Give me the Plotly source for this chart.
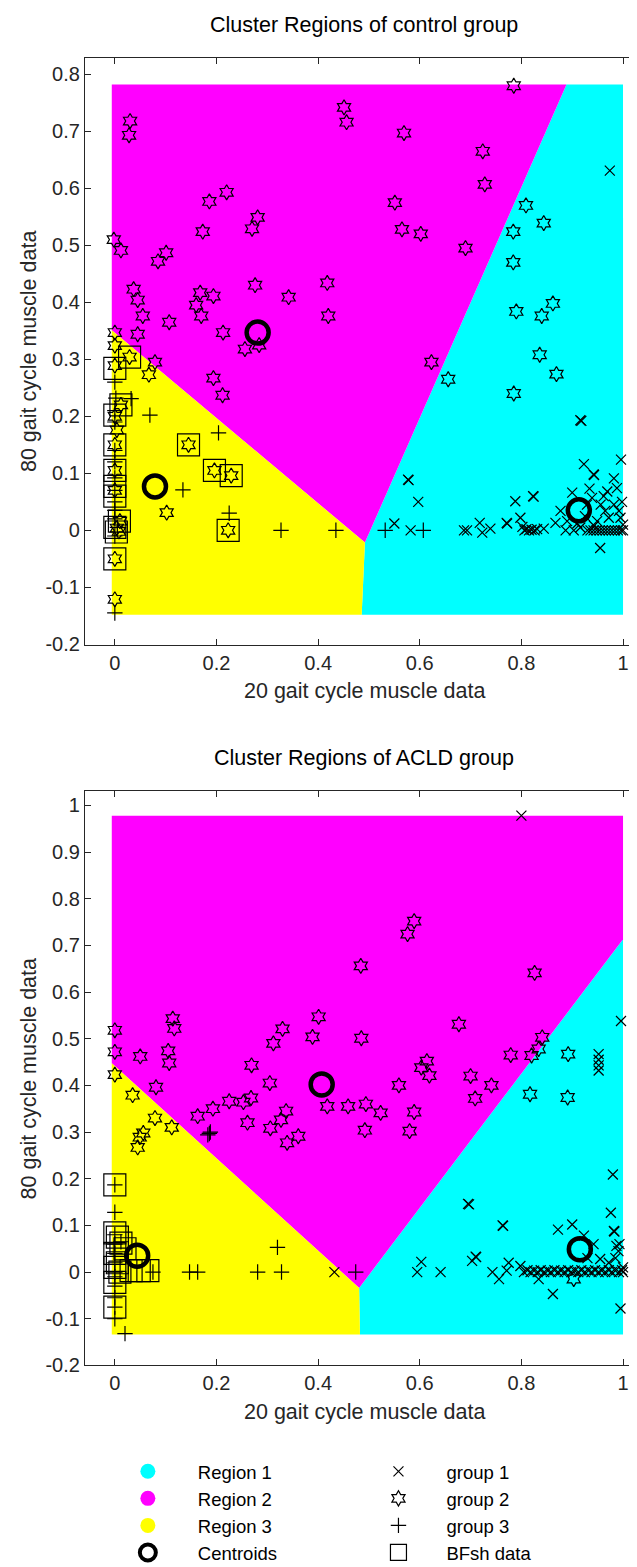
import plotly.graph_objects as go

FONT = "Liberation Sans"
TXT = "#262626"

# ---------------- data: control group ----------------
ctl_group1 = [(0.974,0.631),(0.916,0.193),(0.918,0.192),(0.996,0.124),(0.923,0.116),(0.942,0.098),(0.943,0.097),
    (0.982,0.091),(0.577,0.089),(0.578,0.088),(0.597,0.050),(0.788,0.051),(0.823,0.060),(0.824,0.059),(0.900,0.066),
    (0.934,0.073),(0.969,0.068),(0.988,0.074),(0.550,0.012),(0.582,0.000),(0.687,0.000),(0.693,0.000),(0.718,0.013),
    (0.723,-0.004),(0.739,0.003),(0.771,0.013),(0.772,0.012),(0.798,0.022),(0.802,0.006),(0.806,0.000),(0.810,0.002),
    (0.815,0.000),(0.820,0.001),(0.826,0.000),(0.831,0.002),(0.844,0.003),(0.867,0.013),(0.877,0.034),(0.887,0.000),
    (0.890,0.016),(0.903,0.000),(0.916,0.005),(0.929,0.045),(0.939,0.057),(0.956,0.045),(0.965,0.034),(0.982,0.045),
    (0.992,0.034),(0.995,0.022),(0.972,0.022),(0.949,0.016),(0.943,0.008),(0.955,-0.031),(0.930,0.000),(0.936,0.000),
    (0.942,0.000),(0.948,0.000),(0.954,0.000),(0.960,0.000),(0.966,0.000),(0.972,0.000),(0.978,0.000),(0.984,0.000),
    (0.990,0.000),(0.996,0.000),(1.000,0.000),(1.000,0.010),(0.998,0.050),(0.962,0.060),(0.925,0.025),(0.910,0.012)]
ctl_group2 = [(0.030,0.718),(0.028,0.693),(0.451,0.742),(0.456,0.716),(0.220,0.593),(0.186,0.577),(0.281,0.549),
    (0.270,0.529),(0.173,0.524),(-0.002,0.510),(0.012,0.491),(0.101,0.487),(0.085,0.472),(0.276,0.430),(0.418,0.434),
    (0.420,0.376),(0.342,0.409),(0.037,0.423),(0.045,0.404),(0.168,0.417),(0.194,0.411),(0.160,0.395),(0.170,0.376),
    (0.055,0.376),(0.107,0.365),(0.213,0.347),(0.045,0.344),(0.000,0.347),(0.256,0.318),(0.284,0.325),(0.000,0.324),
    (0.029,0.304),(0.000,0.289),(0.079,0.295),(0.067,0.273),(0.194,0.267),(0.212,0.237),
    (0.785,0.780),(0.569,0.697),(0.724,0.665),(0.728,0.607),(0.551,0.575),(0.565,0.528),(0.602,0.520),(0.690,0.495),
    (0.809,0.570),(0.844,0.539),(0.784,0.524),(0.784,0.470),(0.790,0.384),(0.862,0.398),(0.840,0.376),(0.836,0.308),
    (0.869,0.274),(0.785,0.240),(0.623,0.295),(0.656,0.265),
    (0.000,0.200),(0.012,0.220),(0.004,0.176),(0.000,0.150),(0.145,0.150),(0.000,0.105),(0.196,0.105),(0.229,0.096),
    (0.000,0.070),(0.102,0.031),(0.223,0.000),(0.010,0.016),(0.004,0.004),(0.008,-0.002),(0.000,-0.050),(0.000,-0.121)]
ctl_group3 = [(0.000,0.260),(0.002,0.232),(0.000,0.210),(0.000,0.190),(0.000,0.140),(0.000,0.120),(0.000,0.092),
    (0.000,0.070),(0.000,0.050),(0.000,0.035),(0.000,0.020),(0.005,0.005),(0.000,-0.010),(0.000,-0.145),(0.032,0.231),
    (0.069,0.202),(0.204,0.171),(0.134,0.071),(0.225,0.030),(0.327,0.000),(0.435,0.000),(0.532,0.000),(0.607,0.000)]
ctl_bfsh = [(0.000,0.284),(0.029,0.304),(0.012,0.220),(0.000,0.202),(0.145,0.150),(0.000,0.150),(0.000,0.105),
    (0.196,0.105),(0.229,0.096),(0.000,0.077),(0.000,0.060),(0.009,0.016),(0.000,0.005),(0.003,-0.003),(0.223,0.000),
    (0.000,-0.050)]
ctl_centroids = [(0.913,0.035),(0.281,0.347),(0.079,0.077)]
ctl_region_x = [-0.006, 1.0]
ctl_region_y = [-0.148, 0.782]

# ---------------- data: ACLD group ----------------
acl_group1 = [(0.800,0.978),(0.996,0.538),(0.952,0.467),(0.952,0.455),(0.952,0.443),(0.952,0.432),(0.980,0.209),
    (0.976,0.127),(0.695,0.146),(0.697,0.145),(0.763,0.100),(0.764,0.099),(0.872,0.091),(0.900,0.102),(0.982,0.088),
    (0.983,0.087),(0.923,0.078),(0.987,0.056),(0.710,0.033),(0.711,0.032),(0.703,0.024),(0.603,0.022),(0.595,0.000),
    (0.641,0.000),(0.775,0.020),(0.743,0.000),(0.756,-0.015),(0.771,0.003),(0.798,0.013),(0.834,-0.015),(0.862,-0.047),
    (0.995,-0.078),(0.432,0.000),(0.942,0.060),(0.955,0.028),(0.972,0.020),(0.991,0.045),(0.993,0.060),(0.930,0.030),
    (0.985,0.030),(0.805,0.000),(0.812,0.004),(0.818,0.000),(0.825,0.003),(0.832,0.000),(0.838,0.004),(0.845,0.000),
    (0.852,0.003),(0.858,0.000),(0.865,0.004),(0.872,0.000),(0.878,0.003),(0.885,0.000),(0.892,0.004),(0.898,0.000),
    (0.905,0.003),(0.912,0.000),(0.918,0.004),(0.925,0.000),(0.932,0.003),(0.938,0.000),(0.945,0.004),(0.952,0.000),
    (0.958,0.003),(0.965,0.000),(0.972,0.004),(0.978,0.000),(0.985,0.003),(0.992,0.000),(0.998,0.004),(1.000,0.000),
    (1.000,0.010)]
acl_group2 = [(0.484,0.656),(0.401,0.547),(0.389,0.504),(0.330,0.521),(0.312,0.490),(0.485,0.501),(0.000,0.518),
    (0.000,0.472),(0.114,0.543),(0.117,0.522),(0.105,0.474),(0.107,0.448),(0.050,0.462),(0.000,0.423),(0.269,0.443),
    (0.305,0.405),(0.081,0.396),(0.035,0.379),(0.418,0.355),(0.459,0.355),(0.494,0.360),(0.268,0.373),(0.225,0.366),
    (0.253,0.364),(0.193,0.350),(0.163,0.334),(0.337,0.345),(0.079,0.330),(0.327,0.326),(0.112,0.310),(0.261,0.320),
    (0.306,0.308),(0.339,0.277),(0.361,0.291),(0.492,0.304),(0.049,0.289),(0.045,0.267),(0.056,0.298),
    (0.589,0.752),(0.576,0.724),(0.826,0.641),(0.677,0.531),(0.841,0.503),(0.834,0.478),(0.820,0.464),(0.779,0.465),
    (0.892,0.467),(0.614,0.452),(0.603,0.438),(0.619,0.421),(0.700,0.420),(0.741,0.400),(0.559,0.400),(0.709,0.372),
    (0.817,0.381),(0.891,0.374),(0.523,0.341),(0.589,0.343),(0.580,0.302),(0.903,-0.015)]
acl_group3 = [(0.000,0.187),(0.000,0.128),(0.000,0.080),(0.000,0.060),(0.000,0.040),(0.000,0.020),(0.000,0.000),
    (0.000,-0.010),(0.000,-0.030),(0.000,-0.055),(0.000,-0.075),(0.000,-0.100),(0.020,-0.132),(0.183,0.294),
    (0.186,0.297),(0.188,0.300),(0.320,0.053),(0.075,0.000),(0.147,0.000),(0.163,0.000),(0.281,0.000),(0.328,0.000),
    (0.474,0.000),(0.012,0.065)]
acl_bfsh = [(0.000,0.187),(0.000,0.084),(0.005,0.075),(0.012,0.062),(0.020,0.050),(0.000,0.040),(0.005,0.020),
    (0.000,0.010),(0.010,0.000),(0.032,0.003),(0.048,0.003),(0.065,0.003),(0.000,-0.022),(0.000,-0.075)]
acl_centroids = [(0.915,0.049),(0.407,0.402),(0.044,0.035)]
acl_region_x = [-0.006, 1.0]
acl_region_y = [-0.134, 0.978]

# ---------------- labels / ticks ----------------
titles = ["Cluster Regions of control group", "Cluster Regions of ACLD group"]
x_label = "20 gait cycle muscle data"
y_label = "80 gait cycle muscle data"
region_names = ["Region 1", "Region 2", "Region 3"]
region_colors = ["#00FFFF", "#FF00FF", "#FFFF00"]
group_names = ["group 1", "group 2", "group 3", "BFsh data"]
x_ticks = [0, 0.2, 0.4, 0.6, 0.8, 1]
x_tick_labels = ["0", "0.2", "0.4", "0.6", "0.8", "1"]
ctl_y_ticks = [-0.2, -0.1, 0, 0.1, 0.2, 0.3, 0.4, 0.5, 0.6, 0.7, 0.8]
ctl_y_tick_labels = ["-0.2", "-0.1", "0", "0.1", "0.2", "0.3", "0.4", "0.5", "0.6", "0.7", "0.8"]
acl_y_ticks = [-0.2, -0.1, 0, 0.1, 0.2, 0.3, 0.4, 0.5, 0.6, 0.7, 0.8, 0.9, 1]
acl_y_tick_labels = ["-0.2", "-0.1", "0", "0.1", "0.2", "0.3", "0.4", "0.5", "0.6", "0.7", "0.8", "0.9", "1"]


def clip_halfplane(poly, a, b, c):
    out = []
    n = len(poly)
    for i in range(n):
        p, q = poly[i], poly[(i + 1) % n]
        fp = a * p[0] + b * p[1] - c
        fq = a * q[0] + b * q[1] - c
        if fp <= 0:
            out.append(p)
        if fp * fq < 0:
            t = fp / (fp - fq)
            out.append((p[0] + t * (q[0] - p[0]), p[1] + t * (q[1] - p[1])))
    return out


def voronoi_cells(cents, xb, yb):
    rect = [(xb[0], yb[0]), (xb[1], yb[0]), (xb[1], yb[1]), (xb[0], yb[1])]
    cells = []
    for i, (xi, yi) in enumerate(cents):
        poly = rect
        for j, (xj, yj) in enumerate(cents):
            if i == j:
                continue
            poly = clip_halfplane(poly, 2 * (xj - xi), 2 * (yj - yi), xj**2 + yj**2 - xi**2 - yi**2)
        cells.append(poly)
    return cells


def xs(pts):
    return [p[0] for p in pts]


def ys(pts):
    return [p[1] for p in pts]


fig = go.Figure()

panels = [
    (ctl_group1, ctl_group2, ctl_group3, ctl_bfsh, ctl_centroids, ctl_region_x, ctl_region_y, "x", "y", False),
    (acl_group1, acl_group2, acl_group3, acl_bfsh, acl_centroids, acl_region_x, acl_region_y, "x2", "y2", True),
]

LW = 1.2
for g1, g2, g3, bf, cents, rx, ry, xa, ya, leg in panels:
    for k, cell in enumerate(voronoi_cells(cents, rx, ry)):
        fig.add_trace(go.Scatter(x=xs(cell) + [cell[0][0]], y=ys(cell) + [cell[0][1]], mode="lines",
                                 fill="toself", fillcolor=region_colors[k], line=dict(width=0, color=region_colors[k]),
                                 hoverinfo="skip", showlegend=False, xaxis=xa, yaxis=ya))
    fig.add_trace(go.Scatter(x=xs(g1), y=ys(g1), mode="markers", name=group_names[0], legend="legend2",
                             marker=dict(symbol="x-thin-open", size=10, color="black", line=dict(width=LW, color="black")),
                             showlegend=leg, xaxis=xa, yaxis=ya))
    fig.add_trace(go.Scatter(x=xs(g2), y=ys(g2), mode="markers", name=group_names[1], legend="legend2",
                             marker=dict(symbol="hexagram-open", size=11.5, color="black", line=dict(width=LW, color="black")),
                             showlegend=leg, xaxis=xa, yaxis=ya))
    fig.add_trace(go.Scatter(x=xs(g3), y=ys(g3), mode="markers", name=group_names[2], legend="legend2",
                             marker=dict(symbol="cross-thin-open", size=11, color="black", line=dict(width=LW, color="black")),
                             showlegend=leg, xaxis=xa, yaxis=ya))
    fig.add_trace(go.Scatter(x=xs(bf), y=ys(bf), mode="markers", name=group_names[3], legend="legend2",
                             marker=dict(symbol="square-open", size=22, color="black", line=dict(width=LW, color="black")),
                             showlegend=leg, xaxis=xa, yaxis=ya))
    fig.add_trace(go.Scatter(x=xs(cents), y=ys(cents), mode="markers", name="Centroids", legend="legend",
                             marker=dict(symbol="circle-open", size=22, color="black", line=dict(width=4.5, color="black")),
                             showlegend=False, xaxis=xa, yaxis=ya))

# legend-only entries for the first legend column
for k in range(3):
    fig.add_trace(go.Scatter(x=[None], y=[None], mode="markers", name=region_names[k], legend="legend",
                             marker=dict(symbol="circle", size=15, color=region_colors[k]),
                             xaxis="x2", yaxis="y2"))
fig.add_trace(go.Scatter(x=[None], y=[None], mode="markers", name="Centroids", legend="legend",
                         marker=dict(symbol="circle-open", size=16, color="black", line=dict(width=4, color="black")),
                         xaxis="x2", yaxis="y2"))

W, H = 637, 1567
axis_common = dict(showgrid=False, zeroline=False, showline=True, linecolor=TXT, linewidth=1, mirror="ticks",
                   ticks="inside", ticklen=6, tickwidth=1, tickcolor=TXT,
                   tickfont=dict(family=FONT, size=20, color=TXT))
x_dom = [77 / W, 1.0]
x_rng = [(77 - 107) / 509, (637 - 107) / 509]

# control panel: y=0 at 526 px, 574 px per unit; ACLD panel: y=0 at 1273 px, 470 px per unit
top_px, bot_px = 50, 641
y1_rng = [(526 - bot_px) / 574, (526 - top_px) / 574]
top2_px, bot2_px = 789, 1367
y2_rng = [(1273 - bot2_px) / 470, (1273 - top2_px) / 470]

fig.update_layout(
    width=W, height=H, margin=dict(l=0, r=0, t=0, b=0),
    paper_bgcolor="white", plot_bgcolor="white",
    font=dict(family=FONT, color=TXT),
    xaxis=dict(domain=x_dom, range=x_rng, tickvals=x_ticks, ticktext=x_tick_labels, anchor="y", **axis_common),
    yaxis=dict(domain=[1 - bot_px / H, 1 - top_px / H], range=y1_rng, tickvals=ctl_y_ticks,
               ticktext=ctl_y_tick_labels, anchor="x", **axis_common),
    xaxis2=dict(domain=x_dom, range=x_rng, tickvals=x_ticks, ticktext=x_tick_labels, anchor="y2", **axis_common),
    yaxis2=dict(domain=[1 - bot2_px / H, 1 - top2_px / H], range=y2_rng, tickvals=acl_y_ticks,
                ticktext=acl_y_tick_labels, anchor="x2", **axis_common),
    legend=dict(x=90 / W, y=1 - 1455 / H, xanchor="left", yanchor="top", bgcolor="rgba(0,0,0,0)",
                font=dict(family=FONT, size=18.5, color="black"), itemwidth=90, traceorder="normal",
                tracegroupgap=0),
    legend2=dict(x=343 / W, y=1 - 1455 / H, xanchor="left", yanchor="top", bgcolor="rgba(0,0,0,0)",
                 font=dict(family=FONT, size=18.5, color="black"), itemwidth=86, traceorder="normal",
                 tracegroupgap=0),
    showlegend=True,
)

ann = []
for title, ty, yc in [(titles[0], 17, (top_px + bot_px) / 2), (titles[1], 755, (top2_px + bot2_px) / 2)]:
    ann.append(dict(text=title, x=357 / W, y=1 - ty / H, xref="paper", yref="paper", showarrow=False,
                    xanchor="center", yanchor="middle", font=dict(family=FONT, size=21.5, color="black")))
    ann.append(dict(text=y_label, x=21 / W, y=1 - yc / H, xref="paper", yref="paper", showarrow=False,
                    textangle=-90, xanchor="center", yanchor="middle", font=dict(family=FONT, size=21.5, color=TXT)))
for ly in [bot_px + 47, bot2_px + 47]:
    ann.append(dict(text=x_label, x=357 / W, y=1 - ly / H, xref="paper", yref="paper", showarrow=False,
                    xanchor="center", yanchor="middle", font=dict(family=FONT, size=21.5, color=TXT)))
fig.update_layout(annotations=ann)

fig.write_html("out.html")
